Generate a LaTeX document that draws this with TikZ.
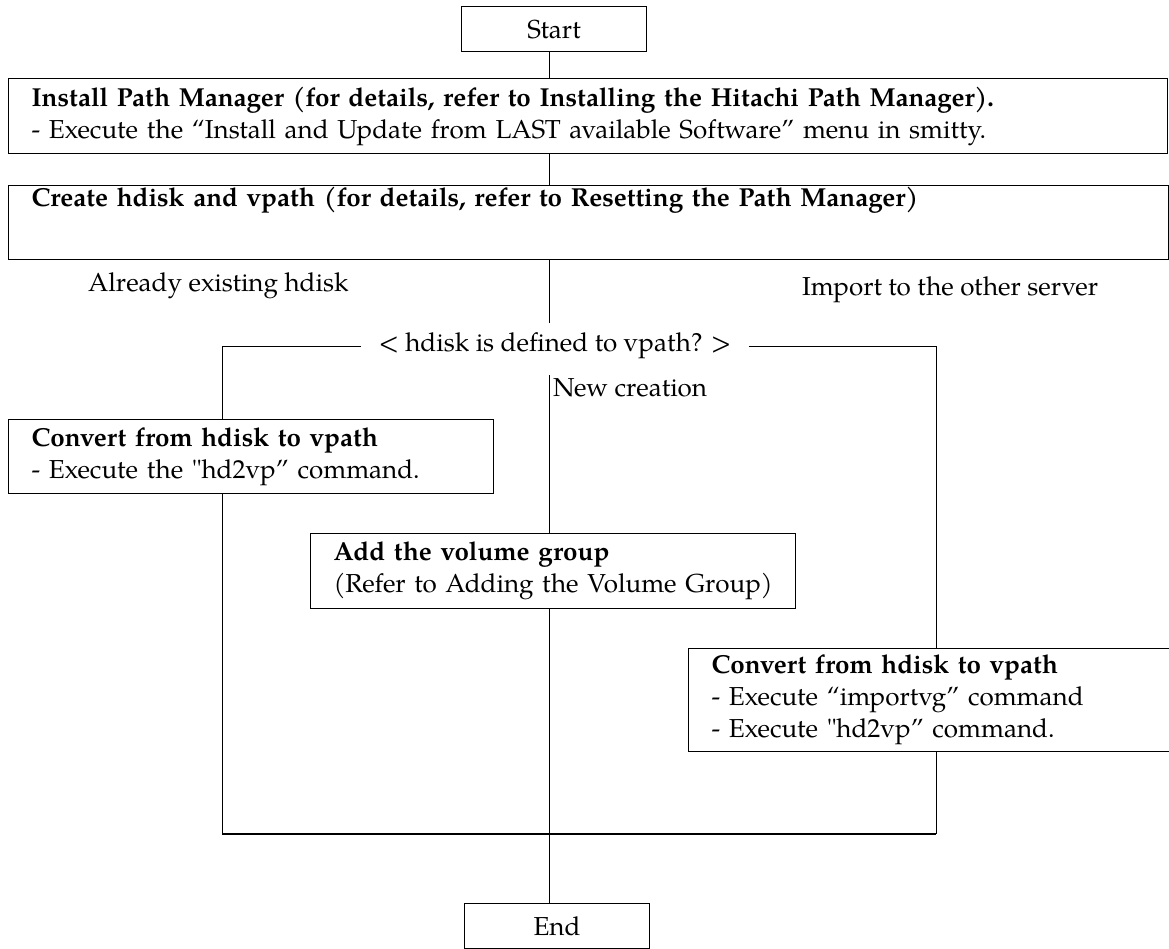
\documentclass[tikz,border=0pt]{standalone}
\usepackage{fontspec}
\setmainfont{TeX Gyre Pagella}
\newcommand\diafont{\fontsize{26}{32}\selectfont}
\begin{document}
\begin{tikzpicture}[x=1pt,y=-1pt,
  box/.style={draw, line width=1.1pt, anchor=north west, inner xsep=23pt, inner ysep=0pt, align=left, font=\diafont},
  tbox/.style={draw, line width=1.1pt, anchor=north west, inner sep=0pt, align=center, font=\diafont, minimum width=185pt, minimum height=45pt},
  lbl/.style={anchor=west, inner sep=0pt, font=\diafont},
  conn/.style={line width=0.9pt}]
\useasboundingbox (0,0) rectangle (1169,949);

\node[tbox] (start) at (461,6) {Start};
\node[box, minimum width=1159pt, text width=1113pt, minimum height=75pt] (install) at (8,78)
  {\textbf{Install Path Manager (for details, refer to Installing the Hitachi Path Manager).}\\
   - Execute the “Install and Update from LAST available Software” menu in smitty.};
\node[box, minimum width=1160pt, text width=1114pt, minimum height=74pt] (create) at (8,185)
  {\textbf{Create hdisk and vpath (for details, refer to Resetting the Path Manager)}\\[10pt]\strut};
\node[lbl] (lexist) at (88,286) {Already existing hdisk};
\node[lbl] (limport) at (802,290) {Import to the other server};
\node[font=\diafont, inner xsep=18pt, inner ysep=0pt] (dec) at (555,346) {< hdisk is defined to vpath? >};
\node[lbl] (lnew) at (553,388) {New creation};
\node[box, minimum width=485pt, text width=439pt, minimum height=74pt] (left) at (8,419)
  {\textbf{Convert from hdisk to vpath}\\\mbox{- Execute the \textquotedbl hd2vp” command.}};
\node[box, minimum width=485pt, text width=439pt, minimum height=75pt] (add) at (310,533)
  {\textbf{Add the volume group}\\\mbox{(Refer to Adding the Volume Group)}};
\node[box, minimum width=484pt, text width=438pt, minimum height=103pt] (right) at (688,648)
  {\textbf{Convert from hdisk to vpath}\\- Execute “importvg” command\\\mbox{- Execute \textquotedbl hd2vp” command.}};
\node[tbox] (end) at (464,903) {End};

\coordinate (sp) at (549,0);
\coordinate (g1) at (549,323);
\coordinate (g2) at (549,375);
\coordinate (lc) at (222,346);
\coordinate (rc) at (936,346);
\coordinate (bl) at (222,834);
\coordinate (br) at (936,834);

\draw[conn] (start.south -| sp) -- (install.north -| sp);
\draw[conn] (install.south -| sp) -- (create.north -| sp);
\draw[conn] (create.south -| sp) -- (g1);
\draw[conn] (dec.west) -- (lc) -- (lc |- left.north);
\draw[conn] (dec.east) -- (rc) -- (rc |- right.north);
\draw[conn] (g2) -- (add.north -| sp);
\draw[conn] (left.south -| lc) -- (bl);
\draw[conn] (right.south -| rc) -- (br);
\draw[line width=1.8pt] (bl) -- (br);
\draw[conn] (add.south -| sp) -- (end.north -| sp);
\end{tikzpicture}
\end{document}
